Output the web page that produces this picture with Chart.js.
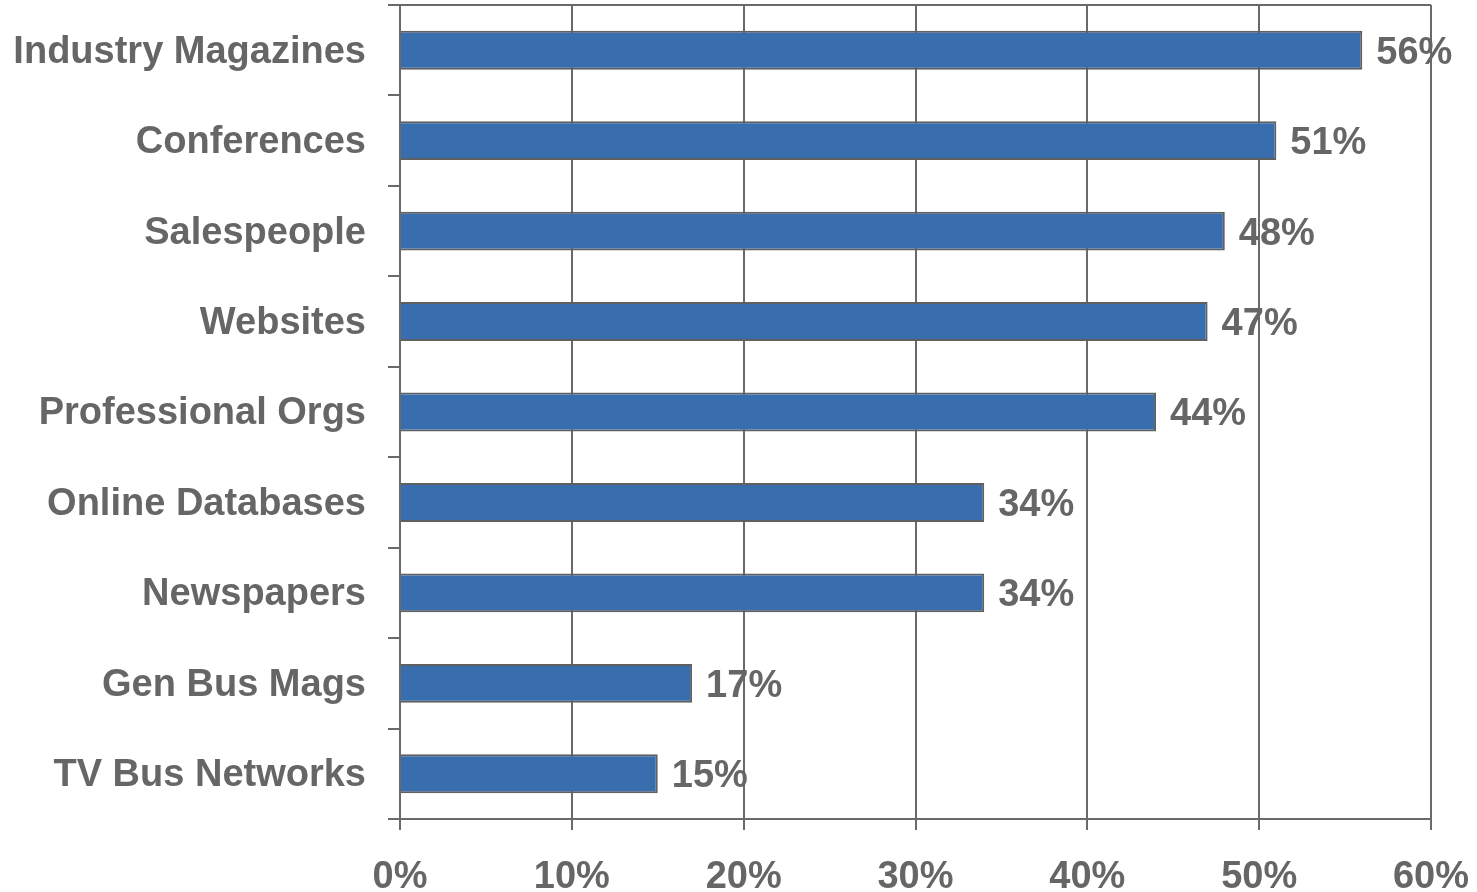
<!DOCTYPE html>
<html>
<head>
<meta charset="utf-8">
<title>Information sources</title>
<script src="https://cdn.jsdelivr.net/npm/chart.js@4/dist/chart.umd.min.js"></script>
<style>
  html, body { margin: 0; padding: 0; background: #ffffff; }
  #wrap { width: 1477px; height: 892px; }
</style>
</head>
<body>
<div id="wrap"><canvas id="chart" width="1477" height="892"></canvas></div>
<script>
// Share of respondents using each information source (%)
const categories = [
  'Industry Magazines',
  'Conferences',
  'Salespeople',
  'Websites',
  'Professional Orgs',
  'Online Databases',
  'Newspapers',
  'Gen Bus Mags',
  'TV Bus Networks'
];
const shares = [56, 51, 48, 47, 44, 34, 34, 17, 15];
const axisTicks = [0, 10, 20, 30, 40, 50, 60];

const INK = '#666666';
const RULE = '#6a6a6a';
const FONT = { family: '"Liberation Sans", Arial, Helvetica, sans-serif', size: 38, weight: 'bold' };

// Percentage labels written just past the end of each bar
const valueLabels = {
  id: 'valueLabels',
  afterDatasetsDraw(chart) {
    const ctx = chart.ctx;
    const meta = chart.getDatasetMeta(0);
    ctx.save();
    ctx.font = `${FONT.weight} ${FONT.size}px ${FONT.family}`;
    ctx.fillStyle = INK;
    ctx.textAlign = 'left';
    ctx.textBaseline = 'middle';
    meta.data.forEach((bar, i) => {
      ctx.fillText(shares[i] + '%', bar.x + 14, bar.y + 3);
    });
    ctx.restore();
  }
};

new Chart(document.getElementById('chart'), {
  type: 'bar',
  data: {
    labels: categories,
    datasets: [{
      data: shares,
      backgroundColor: '#386EAE',
      borderColor: '#606060',
      borderWidth: 2,
      barPercentage: 0.43,
      categoryPercentage: 1.0
    }]
  },
  options: {
    indexAxis: 'y',
    responsive: false,
    animation: false,
    devicePixelRatio: 1,
    layout: { padding: { top: 5, right: 46, bottom: 0, left: 0 } },
    plugins: {
      legend: { display: false },
      tooltip: { enabled: false }
    },
    scales: {
      x: {
        type: 'linear',
        min: 0,
        max: 60,
        afterFit(scale) {
          scale.height = 73;
          scale.paddingLeft = 0;
          scale.paddingRight = 0;
        },
        afterBuildTicks(scale) { scale.ticks = axisTicks.map(v => ({ value: v })); },
        ticks: {
          font: FONT,
          color: INK,
          padding: 25,
          callback: v => v + '%'
        },
        grid: {
          color: RULE,
          lineWidth: 2,
          tickLength: 11,
          drawOnChartArea: true
        },
        border: { display: true, color: RULE, width: 2 }
      },
      y: {
        type: 'category',
        offset: true,
        afterFit(scale) {
          scale.width = 400;
          scale.paddingTop = 0;
          scale.paddingBottom = 0;
        },
        ticks: {
          font: FONT,
          color: INK,
          padding: 22,
          labelOffset: 2
        },
        grid: {
          offset: true,
          drawOnChartArea: true,
          // only the top boundary runs across the plot; the rest are short ticks
          color: c => (c.index === 0 ? RULE : 'rgba(0,0,0,0)'),
          tickColor: RULE,
          lineWidth: 2,
          tickLength: 12
        },
        border: { display: true, color: RULE, width: 2 }
      }
    }
  },
  plugins: [valueLabels]
});
</script>
</body>
</html>
